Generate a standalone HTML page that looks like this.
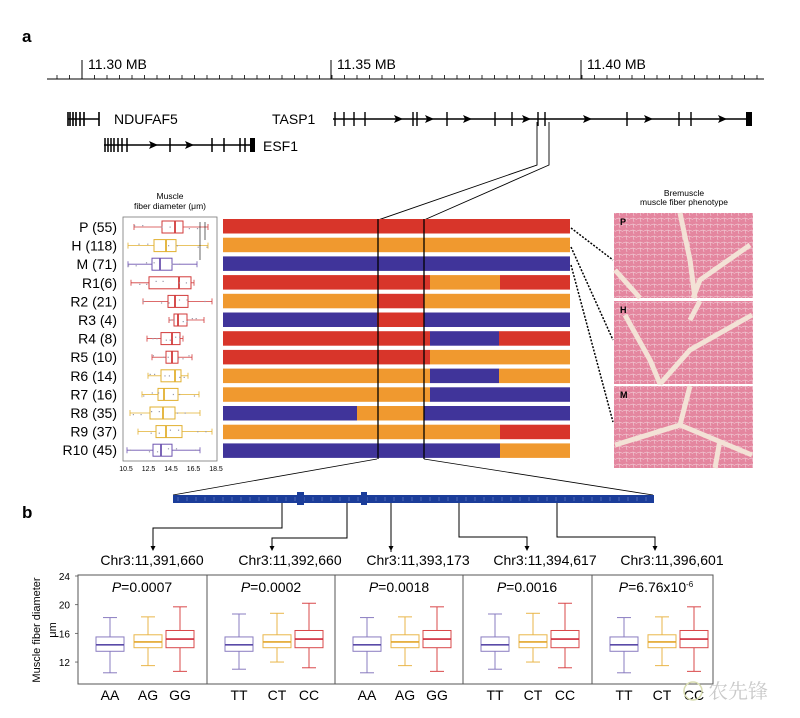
<!DOCTYPE html>
<html><head><meta charset="utf-8">
<style>
html,body{margin:0;padding:0;background:#fff;}
svg{display:block;font-family:"Liberation Sans",Arial,sans-serif;}
</style></head>
<body>
<svg id="s" width="800" height="718" viewBox="0 0 800 718" xmlns="http://www.w3.org/2000/svg">
<defs>
<pattern id="cells" width="7" height="6" patternUnits="userSpaceOnUse">
<rect width="7" height="6" fill="#e4869f"/>
<path d="M0 3 L3 2 L7 3.5 M3 2 L4 6" stroke="#f2cdd7" stroke-width="0.6" fill="none"/>
</pattern>
</defs>
<text x="22" y="42" font-size="17" font-weight="bold">a</text>
<text x="22" y="518" font-size="17" font-weight="bold">b</text>
<g id="g"></g>
</svg>
<script>
const g=document.getElementById('g');let h='';
const L=(x1,y1,x2,y2,c='#000',w=1,extra='')=>h+=`<line x1="${x1}" y1="${y1}" x2="${x2}" y2="${y2}" stroke="${c}" stroke-width="${w}" ${extra}/>`;
const R=(x,y,w,hh,f,extra='')=>h+=`<rect x="${x}" y="${y}" width="${w}" height="${hh}" fill="${f}" ${extra}/>`;
const T=(x,y,s,fs,extra='')=>h+=`<text x="${x}" y="${y}" font-size="${fs}" ${extra}>${s}</text>`;
const A=(x,y)=>h+=`<polygon points="${x-4},${y-4} ${x+5},${y} ${x-4},${y+4} ${x-2},${y}" fill="#000"/>`;
L(47,79,764,79,'#000',1);
for(let x=57;x<=764;x+=12.5){L(x,79,x,75,'#000',0.8);}
[82,331,581].forEach((x,i)=>{L(x,79,x,60,'#000',1);T(x+6,69,['11.30 MB','11.35 MB','11.40 MB'][i],14);});
L(68,119,99,119,'#000',1.6);[68,70,73,76,80,84,99].forEach(x=>L(x,112,x,126,'#000',1.6));
T(114,124,'NDUFAF5',14);
L(104,145,255,145,'#000',1.6);[105,108,111,114,118,122,127,170,212,224,240,245].forEach(x=>L(x,138,x,152,'#000',1.5));
R(250,138,5,14,'#000');A(153,145);A(189,145);T(263,151,'ESF1',14);
T(272,124,'TASP1',14);
L(333,119,750,119,'#000',1.6);
[335,344,354,365,413,417,447,495,512,538,545,627,679,691].forEach(x=>L(x,112,x,126,'#000',1.4));
R(746,112,6,14,'#000');[398,429,467,526,587,648,722].forEach(x=>A(x,119));
h+=`<polyline points="537,122 537,165 378,220" fill="none" stroke="#000" stroke-width="0.9"/>`;
h+=`<polyline points="549,122 549,165 424,220" fill="none" stroke="#000" stroke-width="0.9"/>`;
const C={R:'#d8352a',O:'#f0992f',B:'#40349a'};
const rows=[[['R',223,570]],[['O',223,570]],[['B',223,570]],
[['R',223,430],['O',430,500],['R',500,570]],
[['O',223,377],['R',377,424],['O',424,570]],
[['B',223,377],['R',377,424],['B',424,570]],
[['R',223,430],['B',430,499],['R',499,570]],
[['R',223,430],['O',430,570]],
[['O',223,430],['B',430,499],['O',499,570]],
[['O',223,430],['B',430,570]],
[['B',223,357],['O',357,424],['B',424,570]],
[['O',223,500],['R',500,570]],
[['B',223,500],['O',500,570]]];
rows.forEach((r,i)=>{const y=219+18.7*i;r.forEach(s=>R(s[1],y,s[2]-s[1],14.5,C[s[0]]));});
L(378,219,378,459,'#000',1.3);L(424,219,424,459,'#000',1.3);
L(571,228,613,260,'#000',1.5,'stroke-dasharray="2,1.5"');L(571,247,613,340,'#000',1.5,'stroke-dasharray="2,1.5"');L(571,265,613,422,'#000',1.5,'stroke-dasharray="2,1.5"');
T(684,196,'Bremuscle',8.5,'text-anchor="middle"');T(684,205,'muscle fiber phenotype',8.5,'text-anchor="middle"');
[[213,298,'P','M680 213 L690 260 L695 298 M750 245 L700 280 L693 298 M615 270 L640 298'],
 [301,384,'H','M752 315 L690 350 L660 384 M625 315 L650 360 L660 384 M700 301 L690 320'],
 [386,468,'M','M690 386 L680 425 L615 445 M680 425 L752 455 M720 440 L715 468']].forEach(m=>{
 R(614,m[0],139,m[1]-m[0],'url(#cells)');
 h+=`<path d="${m[3]}" stroke="#f3e2d6" stroke-width="5" fill="none"/>`;
 T(620,m[0]+12,m[2],9,'font-weight="bold"');
});
T(170,199,'Muscle',8.5,'text-anchor="middle"');T(170,209,'fiber diameter (μm)',8.5,'text-anchor="middle"');
R(123,217,94,244,'none','stroke="#777" stroke-width="0.8"');
const names=['P (55)','H (118)','M (71)','R1(6)','R2 (21)','R3 (4)','R4 (8)','R5 (10)','R6 (14)','R7 (16)','R8 (35)','R9 (37)','R10 (45)'];
const bc={r:'#d23a3a',o:'#e2b030',p:'#6e55b0'};
const bd=[['r',134,162,175,183,208],['o',128,154,166,176,208],['p',128,152,160,172,197],['r',131,149,179,191,194],['r',143,168,175,188,212],['r',169,174,178,187,204],['r',147,161,172,180,183],['r',152,166,172,178,192],['o',148,161,175,181,188],['o',142,158,164,178,199],['o',130,150,163,175,200],['o',138,156,166,182,212],['p',127,153,161,172,200]];
bd.forEach((b,i)=>{const y=227+18.6*i;const c=bc[b[0]];
 T(117,y+5,names[i],14,'text-anchor="end"');
 L(b[1],y,b[2],y,c,0.8);L(b[4],y,b[5],y,c,0.8);L(b[1],y-3,b[1],y+3,c,0.8);L(b[5],y-3,b[5],y+3,c,0.8);
 R(b[2],y-6,b[4]-b[2],12,'none',`stroke="${c}" stroke-width="1"`);L(b[3],y-6,b[3],y+6,c,1.8);
 for(let k=0;k<6;k++){const x=b[1]+((k*37+i*13)%100)/100*(b[5]-b[1]);R(x,y-2+(k%3)*1.5,1.2,1.2,'#99a');}
});
L(200,222,200,260,'#000',0.6);L(205,222,205,240,'#000',0.6);
['10.5','12.5','14.5','16.5','18.5'].forEach((t,i)=>T(126+i*22.5,471,t,7,'text-anchor="middle"'));
L(377,459,173,495,'#000',0.8);L(424,459,653,495,'#000',0.8);
R(173,495,481,8,'#1b3d9a');for(let x=178;x<652;x+=9)L(x,497,x,501,'#7f95d0',0.5);
R(297,492,7,13,'#1b3d9a');R(361,492,6,13,'#1b3d9a');
const cn=[[282,528,153],[347,538,272],[391,552,391],[459,537,527],[557,537,655]];
cn.forEach(c=>{h+=`<polyline points="${c[0]},503 ${c[0]},${c[1]} ${c[2]},${c[1]} ${c[2]},549" fill="none" stroke="#000" stroke-width="1"/>`;h+=`<polygon points="${c[2]-2.5},546 ${c[2]+2.5},546 ${c[2]},551" fill="#000"/>`;});
[['Chr3:11,391,660',152],['Chr3:11,392,660',290],['Chr3:11,393,173',418],['Chr3:11,394,617',545],['Chr3:11,396,601',672]].forEach(l=>T(l[1],565,l[0],14,'text-anchor="middle"'));
R(78,575,635,109,'none','stroke="#555" stroke-width="1"');
[207,335,463,592].forEach(x=>L(x,575,x,684,'#555',1));
const yv=v=>576+(24-v)*7.17;
[24,20,16,12].forEach(v=>{T(70,yv(v)+4,v,10,'text-anchor="end"');L(75,yv(v),78,yv(v),'#555',0.8);});
T(0,0,'Muscle fiber diameter',11,'transform="translate(40,630) rotate(-90)" text-anchor="middle"');
T(0,0,'μm',11,'transform="translate(56,630) rotate(-90)" text-anchor="middle"');
const ps=['0.0007','0.0002','0.0018','0.0016','6.76x10<tspan dy="-5" font-size="8">-6</tspan>'];
const gl=[['AA','AG','GG'],['TT','CT','CC'],['AA','AG','GG'],['TT','CT','CC'],['TT','CT','CC']];
const bx=[[10.5,13.5,14.4,15.5,18.2],[11.5,14.0,14.8,15.8,18.3],[10.7,14.0,15.2,16.4,19.7]];
const pc=['#8a7cc0','#e9b64a','#d9484a'],pm=['#5a4aa8','#e3a62a','#d02a3a'];
const x0=[78,207,335,463,592];
x0.forEach((px,j)=>{
 T(px+64,592,'<tspan font-style="italic">P</tspan>='+ps[j],14,'text-anchor="middle"');
 [32,70,102].forEach((dx,k)=>{const cx=px+dx,b=bx[k].map((v,n)=>v+(j%2? (n==0||n==4?0.5:0):0));const c=pc[k];
  L(cx,yv(b[0]),cx,yv(b[1]),c,1);L(cx,yv(b[3]),cx,yv(b[4]),c,1);
  L(cx-7,yv(b[0]),cx+7,yv(b[0]),c,1);L(cx-7,yv(b[4]),cx+7,yv(b[4]),c,1);
  R(cx-14,yv(b[3]),28,yv(b[1])-yv(b[3]),'#fff',`stroke="${c}" stroke-width="1"`);
  L(cx-14,yv(b[2]),cx+14,yv(b[2]),pm[k],1.6);
  T(cx,700,gl[j][k],14,'text-anchor="middle"');
 });
});
T(738,698,'农先锋',20,'fill="#c9c9c9" font-family="Noto Serif CJK SC,serif" text-anchor="middle"');
h+='<circle cx="693" cy="691" r="9" fill="none" stroke="#d8dcb0" stroke-width="1.5"/>';
g.innerHTML=h;
</script>
</body></html>
